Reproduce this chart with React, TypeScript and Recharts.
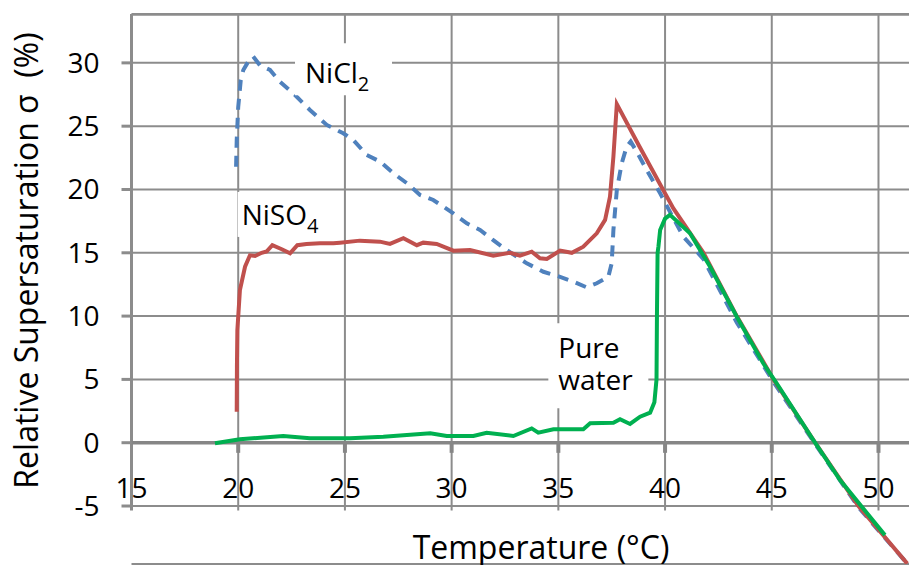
import { LineChart, Line, XAxis, YAxis, CartesianGrid, ReferenceLine, ReferenceDot } from 'recharts';

const FONT = '"Open Sans", "Noto Sans", sans-serif';
const GRID = '#8c8c8c';

// axis extents (the original figure is cropped at right and bottom)
const X_MIN = 15;
const X_MAX = 51.43;
const Y_MIN = -9.58;
const Y_MAX = 33.86;

const xTicks = [15, 20, 25, 30, 35, 40, 45, 50];
const yTicks = [-5, 0, 5, 10, 15, 20, 25, 30];

// [temperature °C, relative supersaturation %]
const niso4: [number, number][] = [
  [19.93, 2.45], [19.94, 6], [19.96, 8.9], [20.08, 12.05], [20.32, 13.9], [20.55, 14.8],
  [20.79, 14.75], [21.1, 15.0], [21.33, 15.1], [21.6, 15.6], [22.04, 15.28], [22.43, 14.96],
  [22.77, 15.6], [23.2, 15.7], [23.83, 15.75], [24.46, 15.75], [24.77, 15.8], [25.7, 15.96],
  [26.64, 15.88], [27.11, 15.7], [27.74, 16.15], [28.37, 15.6], [28.67, 15.8], [29.3, 15.7],
  [30.08, 15.17], [30.86, 15.22], [31.95, 14.77], [32.74, 15.0], [33.2, 14.77], [33.75, 15.09],
  [34.14, 14.57], [34.46, 14.51], [35.08, 15.17], [35.63, 15.0], [36.17, 15.48], [36.8, 16.54],
  [37.19, 17.6], [37.42, 19.43], [37.58, 22.6], [37.74, 26.75], [38.8, 23.4], [39.9, 20],
  [40.39, 18.5], [41.8, 15], [43.36, 10], [45.08, 5], [47.03, 0], [49.06, -5], [51.35, -9.55],
];

const nicl2: [number, number][] = [
  [19.9, 21.8], [19.93, 23.9], [20.0, 26.5], [20.12, 28.65], [20.24, 29.44], [20.47, 30.1],
  [20.7, 30.5], [21.02, 29.8], [21.49, 29.44], [21.96, 28.5], [22.66, 27.46], [23.36, 26.28],
  [24.15, 25.1], [24.92, 24.44], [25.4, 23.9], [26.02, 22.73], [26.65, 22.2], [27.27, 21.28],
  [27.9, 20.5], [28.52, 19.57], [29.14, 19.17], [30.08, 18.12], [30.71, 17.33], [31.33, 16.8],
  [31.95, 16.0], [32.58, 15.22], [33.52, 14.17], [34.3, 13.5], [35.08, 13.1], [35.7, 12.72],
  [36.33, 12.27], [36.8, 12.59], [37.34, 13.1], [37.5, 14.17], [37.58, 16.8], [37.74, 19.96],
  [37.97, 22.07], [38.2, 23.38], [38.39, 23.78], [38.67, 22.99], [39.14, 21.54], [39.77, 19.7],
  [40.39, 17.73], [40.86, 16.27], [41.8, 14.5], [43.36, 9.5], [45.08, 4.8], [47.03, -0.1],
  [49.06, -5.1], [51.35, -9.55],
];

const pureWater: [number, number][] = [
  [18.91, -0.05], [20.08, 0.27], [22.11, 0.53], [23.36, 0.35], [25.24, 0.35], [26.8, 0.47],
  [29.0, 0.74], [29.77, 0.53], [31.02, 0.53], [31.64, 0.79], [32.89, 0.53], [33.75, 1.13],
  [34.06, 0.79], [34.77, 1.06], [36.17, 1.06], [36.49, 1.53], [37.58, 1.58], [37.89, 1.85],
  [38.36, 1.48], [38.83, 2.05], [39.3, 2.37], [39.5, 3.2], [39.6, 5], [39.62, 10], [39.65, 15],
  [39.69, 15.5], [39.77, 16.8], [40.0, 17.7], [40.23, 18.0], [41.17, 16.54], [42.11, 13.9],
  [43.36, 9.95], [44.6, 6.27], [45.23, 4.69], [46.95, 0.21], [48.2, -2.95], [50.3, -7.3],
];

const toRows = (pts: [number, number][]) => pts.map(([x, y]) => ({ x, y }));

const XTick = (props: any) => (
  <text x={props.x} y={498} textAnchor="middle" fontSize={28} fontFamily={FONT} fill="#000">
    {props.payload.value}
  </text>
);

// in-plot series labels with a white box behind them
function SeriesLabel({ viewBox, main, sub, second, box }: any) {
  const { x, y } = viewBox;
  return (
    <g>
      <rect x={x + box[0]} y={y + box[1]} width={box[2]} height={box[3]} fill="#fff" />
      <text x={x} y={y} fontSize={28} fontFamily={FONT} fill="#000">
        {main}
        {sub ? (
          <tspan fontSize={20} dy={8}>
            {sub}
          </tspan>
        ) : null}
        {second ? (
          <tspan x={x} dy={31.7}>
            {second}
          </tspan>
        ) : null}
      </text>
    </g>
  );
}

export default function App() {
  return (
    <div style={{ position: 'absolute', left: 0, top: 0, background: '#fff' }}>
      <LineChart width={909} height={565} margin={{ top: 14, right: 0, bottom: 0, left: 0 }}>
        <CartesianGrid vertical={false} stroke={GRID} strokeWidth={2} />
        <XAxis
          type="number"
          dataKey="x"
          domain={[X_MIN, X_MAX]}
          ticks={xTicks}
          allowDataOverflow
          height={1}
          axisLine={false}
          tickLine={false}
          tick={XTick}
          interval={0}
          label={() => (
            <text x={541} y={559} textAnchor="middle" fontSize={32} fontFamily={FONT} fill="#000">
              Temperature (°C)
            </text>
          )}
        />
        <YAxis
          type="number"
          domain={[Y_MIN, Y_MAX]}
          ticks={yTicks}
          allowDataOverflow
          width={131.5}
          axisLine={false}
          tickLine={{ stroke: GRID, strokeWidth: 3 }}
          tickSize={10}
          tickMargin={22}
          interval={0}
          tick={{ fontSize: 28, fontFamily: FONT, fill: '#000' }}
          label={() => (
            <text
              transform="translate(38,260.5) rotate(-90)"
              textAnchor="middle"
              fontSize={32}
              fontFamily={FONT}
              fill="#000"
            >
              Relative Supersaturation σ{'\u00A0\u00A0'}(%)
            </text>
          )}
        />
        {xTicks.map((t) => (
          <ReferenceLine
            key={'v' + t}
            segment={[{ x: t, y: -5.35 }, { x: t, y: Y_MAX }]}
            stroke={GRID}
            strokeWidth={t === X_MIN ? 3 : 2}
          />
        ))}
        <ReferenceLine y={Y_MAX - 0.05} stroke={GRID} strokeWidth={2} />
        <ReferenceLine segment={[{ x: X_MIN, y: 0 }, { x: X_MAX, y: 0 }]} stroke="#868686" strokeWidth={3.5} />
        {xTicks.slice(1).map((t) => (
          <ReferenceLine
            key={'t' + t}
            segment={[{ x: t, y: 0 }, { x: t, y: -0.8 }]}
            stroke="#868686"
            strokeWidth={4}
          />
        ))}
        <ReferenceDot
          x={23.13}
          y={28.39}
          r={0}
          fill="none"
          stroke="none"
          label={(p: any) => <SeriesLabel viewBox={p.viewBox} main="NiCl" sub="2" box={[-10, -40, 97, 52]} />}
        />
        <ReferenceDot
          x={20.16}
          y={17.2}
          r={0}
          fill="none"
          stroke="none"
          label={(p: any) => <SeriesLabel viewBox={p.viewBox} main="NiSO" sub="4" box={[-4, -33, 92, 45]} />}
        />
        <ReferenceDot
          x={35.0}
          y={6.67}
          r={0}
          fill="none"
          stroke="none"
          label={(p: any) => <SeriesLabel viewBox={p.viewBox} main="Pure" second="water" box={[-10, -35, 100, 85]} />}
        />
        <Line
          data={toRows(nicl2)}
          dataKey="y"
          type="linear"
          stroke="#4F81BD"
          strokeWidth={4}
          strokeDasharray="11 8"
          dot={false}
          isAnimationActive={false}
        />
        <Line
          data={toRows(niso4)}
          dataKey="y"
          type="linear"
          stroke="#C0504D"
          strokeWidth={4}
          dot={false}
          isAnimationActive={false}
        />
        <Line
          data={toRows(pureWater)}
          dataKey="y"
          type="linear"
          stroke="#00B050"
          strokeWidth={4}
          dot={false}
          isAnimationActive={false}
        />
      </LineChart>
    </div>
  );
}
